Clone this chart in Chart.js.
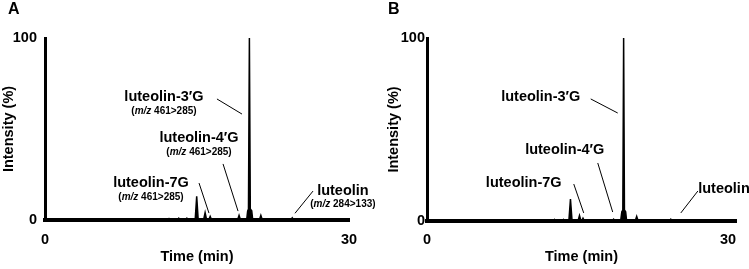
<!DOCTYPE html>
<html lang="en">
<head>
<meta charset="UTF-8">
<title>Luteolin glucuronides - MRM chromatograms</title>
<script src="https://cdn.jsdelivr.net/npm/chart.js"></script>
<style>
  body { margin: 0; background: #fff; }
  #wrap { position: relative; width: 749px; height: 269px; }
  canvas { position: absolute; top: 0; }
</style>
</head>
<body>
<div id="wrap">
  <canvas id="chartA" width="375" height="269" style="left:0"></canvas>
  <canvas id="chartB" width="374" height="269" style="left:375px"></canvas>
</div>
<script>
// retention time (min) / relative intensity (%)
const timeA = [0,
  12.1, 12.24, 12.4,
  13.05, 13.2, 13.35,
  13.85, 14.0, 14.15,
  14.82, 14.97, 15.12,
  15.65, 15.8, 15.95,
  16.15, 16.3, 16.45,
  19.0, 19.15, 19.3,
  19.9, 20.0, 20.08, 20.17, 20.26, 20.4, 20.5,
  21.15, 21.3, 21.45,
  24.25, 24.4, 24.55,
  30];
const intensityA = [0,
  0, 0.8, 0,
  0, 1, 0,
  0, 1, 0,
  0, 13, 0,
  0, 4, 0,
  0, 2, 0,
  0, 2.5, 0,
  0, 5, 6, 100, 6, 5, 0,
  0, 2.5, 0,
  0, 1.2, 0,
  0];

const timeB = [0,
  12.6, 12.7, 12.8,
  13.5, 13.6, 13.7,
  14.14, 14.3, 14.46,
  15.05, 15.2, 15.35,
  15.42, 15.55, 15.7,
  18.45, 18.6, 18.75,
  19.3, 19.42, 19.52, 19.6, 19.68, 19.8, 19.9,
  20.75, 20.9, 21.05,
  24.15, 24.3, 24.45,
  30.8];
const intensityB = [0,
  0, 0.8, 0,
  0, 0.8, 0,
  0, 12, 0,
  0, 3, 0,
  0, 1.5, 0,
  0, 1, 0,
  0, 5, 6, 100, 6, 5, 0,
  0, 2.5, 0,
  0, 1, 0,
  0];

const xTicks = [0, 30];
const yTicks = [0, 100];

// peak labels, placed in data units (min, %)
const notesA = [
  { text: 'luteolin-7G', sub: '461>285', at: [10.46, 20.3], from: [15.2, 20.3], to: [16.18, 3.8] },
  { text: 'luteolin-4\u2032G', sub: '461>285', at: [15.2, 45.0], from: [17.57, 30.8], to: [19.05, 4.9] },
  { text: 'luteolin-3\u2032G', sub: '461>285', at: [11.74, 67.6], from: [16.97, 66.5], to: [19.44, 58.2] },
  { text: 'luteolin', sub: '284>133', at: [29.4, 16.1], from: [26.45, 15.9], to: [24.67, 3.7] }
];
const notesB = [
  { text: 'luteolin-7G', at: [9.64, 20.8], from: [14.63, 20.2], to: [15.62, 4.4] },
  { text: 'luteolin-4\u2032G', at: [13.73, 38.8], from: [17.02, 31.7], to: [18.51, 4.9] },
  { text: 'luteolin-3\u2032G', at: [11.34, 67.8], from: [16.32, 66.7], to: [19.01, 59.0] },
  { text: 'luteolin', at: [29.6, 17.5], from: [27.0, 16.4], to: [25.3, 4.4] }
];

const FAMILY = '"Liberation Sans", Arial, sans-serif';
const bold = size => ({ family: FAMILY, size: size, weight: 'bold' });

const notesPlugin = {
  id: 'notes',
  afterDatasetsDraw(chart, args, opts) {
    const { ctx } = chart;
    const x = chart.scales.x, y = chart.scales.y;
    ctx.save();
    ctx.fillStyle = '#000';
    ctx.strokeStyle = '#000';
    ctx.lineWidth = 1;
    ctx.textBaseline = 'middle';
    opts.notes.forEach(n => {
      ctx.beginPath();
      ctx.moveTo(x.getPixelForValue(n.from[0]), y.getPixelForValue(n.from[1]));
      ctx.lineTo(x.getPixelForValue(n.to[0]), y.getPixelForValue(n.to[1]));
      ctx.stroke();

      const cx = x.getPixelForValue(n.at[0]);
      const cy = y.getPixelForValue(n.at[1]);
      ctx.font = 'bold 14.5px ' + FAMILY;
      ctx.textAlign = 'center';
      ctx.fillText(n.text, cx, cy);

      if (n.sub) {
        // "(m/z 461>285)" with m/z in italics
        const parts = [['(', 'bold'], ['m/z', 'italic bold'], [' ' + n.sub + ')', 'bold']];
        let w = 0;
        parts.forEach(p => { ctx.font = p[1] + ' 10px ' + FAMILY; w += ctx.measureText(p[0]).width; });
        let px = cx - w / 2;
        ctx.textAlign = 'left';
        parts.forEach(p => {
          ctx.font = p[1] + ' 10px ' + FAMILY;
          ctx.fillText(p[0], px, cy + 14);
          px += ctx.measureText(p[0]).width;
        });
      }
    });
    ctx.font = 'bold 16px ' + FAMILY;
    ctx.textAlign = 'left';
    ctx.fillText(opts.letter, opts.letterX, 10);
    ctx.restore();
  }
};

function makePanel(id, times, values, notes, p) {
  const pts = times.map((t, i) => ({ x: t, y: values[i] }));
  return new Chart(document.getElementById(id), {
    type: 'line',
    data: {
      datasets: [{
        data: pts,
        borderColor: '#000',
        backgroundColor: '#000',
        borderWidth: 1.5,
        pointRadius: 0,
        tension: 0,
        fill: 'origin',
        clip: false
      }]
    },
    options: {
      responsive: false,
      animation: false,
      layout: { padding: { top: 38, right: p.padRight, left: 0, bottom: 0 } },
      plugins: {
        legend: { display: false },
        tooltip: { enabled: false },
        notes: { notes: notes, letter: p.letter, letterX: p.letterX }
      },
      scales: {
        x: {
          type: 'linear',
          min: 0,
          max: p.xMax,
          grid: { display: false, drawTicks: false },
          border: { display: true, color: '#000', width: 4 },
          afterBuildTicks: s => { s.ticks = xTicks.map(v => ({ value: v })); },
          afterFit: s => { s.height = p.xHeight; },
          ticks: { color: '#000', font: bold(14.5), padding: p.xPad, maxRotation: 0, autoSkip: false },
          title: { display: true, text: 'Time (min)', color: '#000', font: bold(14.5), padding: { top: 0, bottom: 3 } }
        },
        y: {
          min: 0,
          max: 100,
          grid: { display: false, drawTicks: false },
          border: { display: true, color: '#000', width: 3 },
          afterBuildTicks: s => { s.ticks = yTicks.map(v => ({ value: v })); },
          afterFit: s => { s.width = p.yWidth; },
          ticks: { color: '#000', font: bold(14.5), padding: p.yPad },
          title: { display: true, text: 'Intensity (%)', color: '#000', font: bold(14.5), padding: { top: p.yTitlePad, bottom: 0 } }
        }
      }
    },
    plugins: [notesPlugin]
  });
}

makePanel('chartA', timeA, intensityA, notesA, {
  letter: 'A', letterX: 8, xMax: 30, padRight: 26, xHeight: 49, yWidth: 45, xPad: 11, yPad: 8, yTitlePad: 0
});
makePanel('chartB', timeB, intensityB, notesB, {
  letter: 'B', letterX: 13, xMax: 30.8, padRight: 13, xHeight: 48, yWidth: 52, xPad: 10, yPad: 2, yTitlePad: 10
});
</script>
</body>
</html>
